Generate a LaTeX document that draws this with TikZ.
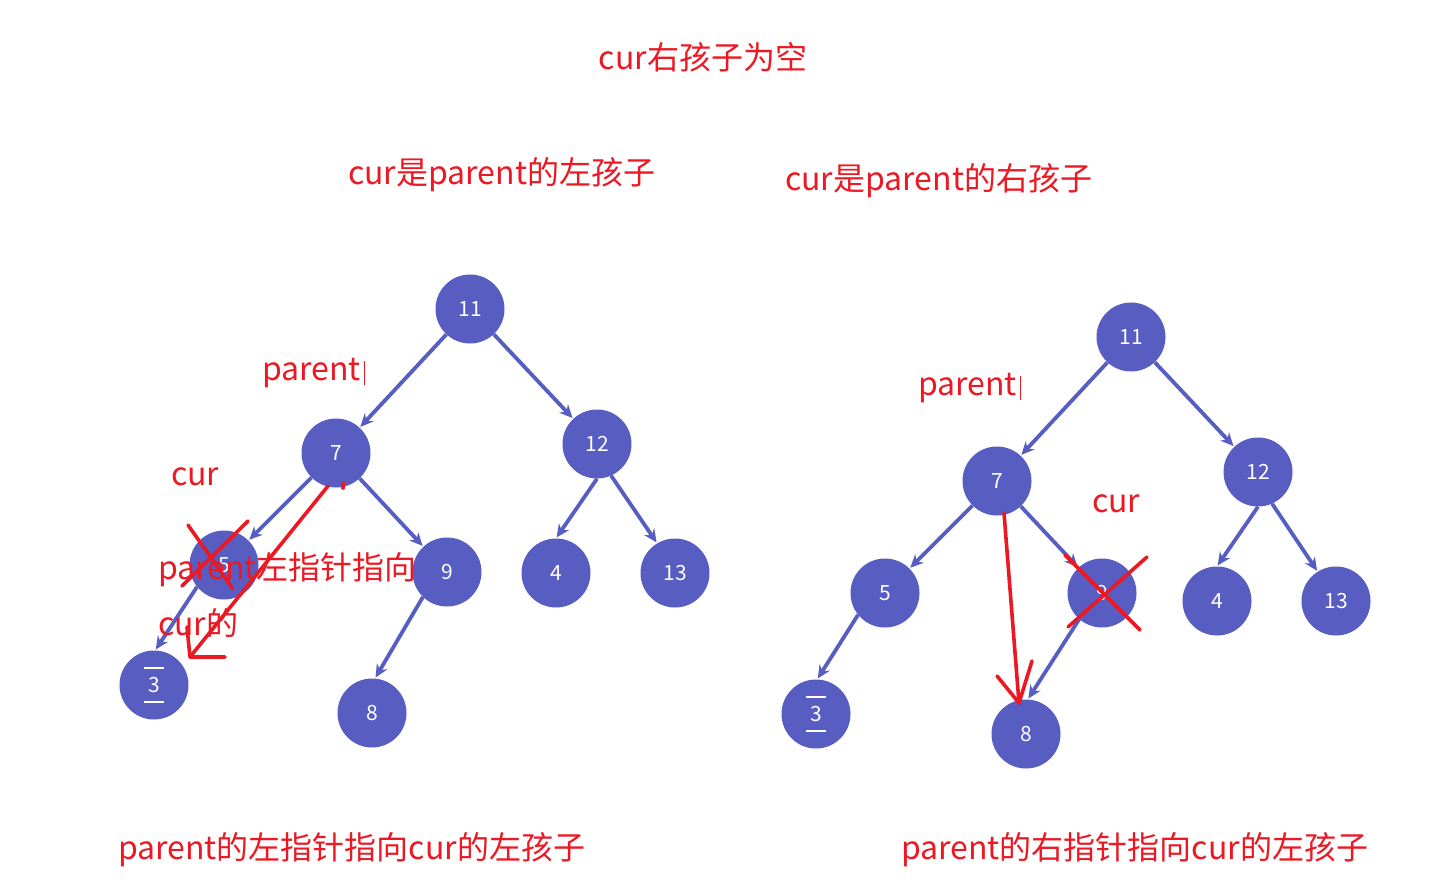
\documentclass[tikz,border=0pt]{standalone}
\usepackage{fontspec}
\setmainfont{Noto Sans CJK SC}
\usetikzlibrary{arrows.meta}
\definecolor{nodeblue}{RGB}{88,93,194}
\definecolor{edgeblue}{RGB}{86,94,194}
\definecolor{annred}{RGB}{235,25,35}
\tikzset{
  tnode/.style={circle,fill=nodeblue,draw=none,minimum size=69pt,inner sep=0pt,text=white,font=\fontsize{21}{24}\selectfont},
  tedge/.style={draw=edgeblue,line width=3.8pt,-{Stealth[length=13pt,width=12pt]},shorten >=1pt},
  lbl/.style={text=annred,inner sep=0pt,font=\fontsize{32}{36}\selectfont},
  redline/.style={draw=annred,line width=3.6pt,line cap=round,line join=round},
}
\begin{document}
\begin{tikzpicture}[x=1pt,y=-1pt]
\useasboundingbox[fill=white] (0,0) rectangle (1431,882);
% ---------- titles ----------
\node[lbl] (title) at (703,57) {cur右孩子为空};
\node[lbl,anchor=west] (ltitle) at (348,175) {cur是parent的左孩子};
\node[lbl,anchor=west] (rtitle) at (785,181) {cur是parent的右孩子};
% ---------- left tree ----------
\node[tnode] (L11) at (470,309) {11};
\node[tnode] (L7) at (336,453) {7};
\node[tnode] (L12) at (597,444) {12};
\node[tnode] (L5) at (224,565) {5};
\node[tnode] (L9) at (447,572) {9};
\node[tnode] (L4) at (556,573) {4};
\node[tnode] (L13) at (675,573) {13};
\node[tnode] (L3) at (154,685) {3};
\node[tnode] (L8) at (372,713) {8};
\foreach \a/\b in {L11/L7,L11/L12,L7/L5,L7/L9}
  \draw[tedge] (\a) -- (\b);
\draw[tedge] (L12.south) -- (L4.north);
\draw[tedge] (L12.-66) -- (L13.121);
\draw[tedge] (L5.219) -- (L3.88);
\draw[tedge] (L9.226) -- (L8.85);
\draw[white,line width=1.4pt] ([xshift=-10pt,yshift=17pt]L3.center) -- ([xshift=10pt,yshift=17pt]L3.center);
\draw[white,line width=1.4pt] ([xshift=-10pt,yshift=-17pt]L3.center) -- ([xshift=10pt,yshift=-17pt]L3.center);
% ---------- right tree ----------
\node[tnode] (R11) at (1131,337) {11};
\node[tnode] (R7) at (997,481) {7};
\node[tnode] (R12) at (1258,472) {12};
\node[tnode] (R5) at (885,593) {5};
\node[tnode] (R9) at (1102,593) {9};
\node[tnode] (R4) at (1217,601) {4};
\node[tnode] (R13) at (1336,601) {13};
\node[tnode] (R3) at (816,714) {3};
\node[tnode] (R8) at (1026,734) {8};
\foreach \a/\b in {R11/R7,R11/R12,R7/R5,R7/R9}
  \draw[tedge] (\a) -- (\b);
\draw[tedge] (R12.south) -- (R4.north);
\draw[tedge] (R12.-66) -- (R13.122);
\draw[tedge] (R5.219) -- (R3.88);
\draw[tedge] (R9.229) -- (R8.87);
\draw[white,line width=1.4pt] ([xshift=-10pt,yshift=17pt]R3.center) -- ([xshift=10pt,yshift=17pt]R3.center);
\draw[white,line width=1.4pt] ([xshift=-10pt,yshift=-17pt]R3.center) -- ([xshift=10pt,yshift=-17pt]R3.center);
% ---------- left annotations ----------
\node[lbl,anchor=west] (lparent) at (262,373) {parent};
\draw[annred,line width=1pt] ([xshift=3pt,yshift=-12pt]lparent.east) -- ([xshift=3pt,yshift=12pt]lparent.east);
\node[lbl,anchor=west] (lcur) at (171,477) {cur};
\node[lbl,anchor=west] (lnote1) at (158,570) {parent左指针指向};
\node[lbl,anchor=west] (lnote2) at (158,623) {cur的};
\coordinate (lx1a) at (188,525); \coordinate (lx1b) at (233,589);
\coordinate (lx2a) at (248,521); \coordinate (lx2b) at (182,586);
\draw[redline] (lx1a) -- (lx1b);
\draw[redline] (lx2a) -- (lx2b);
\coordinate (lastart) at (328,486);
\coordinate (latip) at (190,657);
\coordinate (lah1) at (187,627);
\coordinate (lah2) at (225,657);
\draw[redline] (lastart) -- (latip);
\draw[redline] (lah1) -- (latip) -- (lah2);
\coordinate (ldot) at (343,483);
\draw[redline] (ldot) -- ++(0,5);
% ---------- right annotations ----------
\node[lbl,anchor=west] (rparent) at (918,388) {parent};
\draw[annred,line width=1pt] ([xshift=3pt,yshift=-12pt]rparent.east) -- ([xshift=3pt,yshift=12pt]rparent.east);
\node[lbl,anchor=west] (rcur) at (1092,504) {cur};
\coordinate (rx1a) at (1065,555); \coordinate (rx1b) at (1140,630);
\coordinate (rx2a) at (1147,557); \coordinate (rx2b) at (1068,627);
\draw[redline] (rx1a) -- (rx1b);
\draw[redline] (rx2a) -- (rx2b);
\coordinate (rastart) at (1004,513);
\coordinate (ratip) at (1019,703);
\coordinate (rah1) at (997,676);
\coordinate (rah2) at (1032,661);
\draw[redline] (rastart) -- (ratip);
\draw[redline] (rah1) -- (ratip) -- (rah2);
% ---------- bottom captions ----------
\node[lbl,anchor=west] (lcap) at (118,850) {parent的左指针指向cur的左孩子};
\node[lbl,anchor=west] (rcap) at (901,850) {parent的右指针指向cur的左孩子};
\end{tikzpicture}
\end{document}
